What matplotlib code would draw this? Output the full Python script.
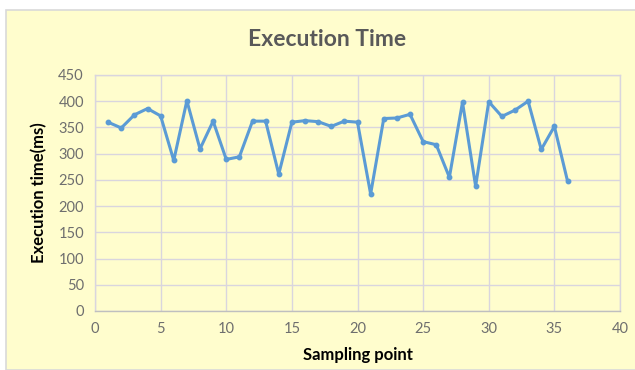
import matplotlib
matplotlib.use("Agg")
import matplotlib.pyplot as plt
from matplotlib.patches import Rectangle

# Execution time per sampling point
sampling_points = list(range(1, 37))
exec_time_ms = [360, 349, 374, 386, 372, 287, 401, 309, 362, 289,
                294, 362, 362, 261, 360, 363, 361, 352, 362, 360,
                223, 367, 368, 375, 323, 317, 255, 398, 238, 399,
                371, 383, 400, 308, 352, 248]

x_ticks = [0, 5, 10, 15, 20, 25, 30, 35, 40]
y_ticks = [0, 50, 100, 150, 200, 250, 300, 350, 400, 450]

bg = "#FFFDCD"
line_color = "#5B9BD5"
grid_color = "#D9D5DE"
text_gray = "#595959"
tick_gray = "#6E6E6E"

plt.rcParams["font.family"] = ["Lato", "DejaVu Sans"]

fig = plt.figure(figsize=(6.35, 3.70), dpi=100)
fig.patch.set_facecolor("white")

# chart area with a thin border
fig.patches.append(Rectangle((6 / 635, 0), 1, 1 - 10 / 370, transform=fig.transFigure,
                             facecolor=bg, edgecolor="#D9D9D9", linewidth=1.2, zorder=-5))

ax = fig.add_axes([95 / 635, 59 / 370, 525 / 635, 236 / 370])
ax.set_zorder(1)
ax.set_facecolor(bg)

ax.plot(sampling_points, exec_time_ms, color=line_color, linewidth=2.2,
        marker="o", markersize=3.2, zorder=3)

ax.set_xlim(0, 40)
ax.set_ylim(0, 450)
ax.set_xticks(x_ticks)
ax.set_yticks(y_ticks)
ax.grid(True, color=grid_color, linewidth=1.0)
ax.set_axisbelow(True)

for side in ["top", "right", "left"]:
    ax.spines[side].set_color(grid_color)
ax.spines["bottom"].set_color("#BFBFBF")
for s in ax.spines.values():
    s.set_linewidth(1.0)

ax.tick_params(length=0, labelsize=10.5, colors=tick_gray, pad=8)

ax.set_xlabel("Sampling point", fontsize=12, fontweight="bold", color="black", labelpad=8)
ax.set_ylabel("Execution time(ms)", fontsize=12, fontweight="bold", color="black", labelpad=8)

fig.text(327 / 635, 1 - 40 / 370, "Execution Time", ha="center", va="center",
         fontsize=16.5, fontweight="bold", color=text_gray)

fig.savefig("out.png", dpi=100, facecolor=fig.get_facecolor())
